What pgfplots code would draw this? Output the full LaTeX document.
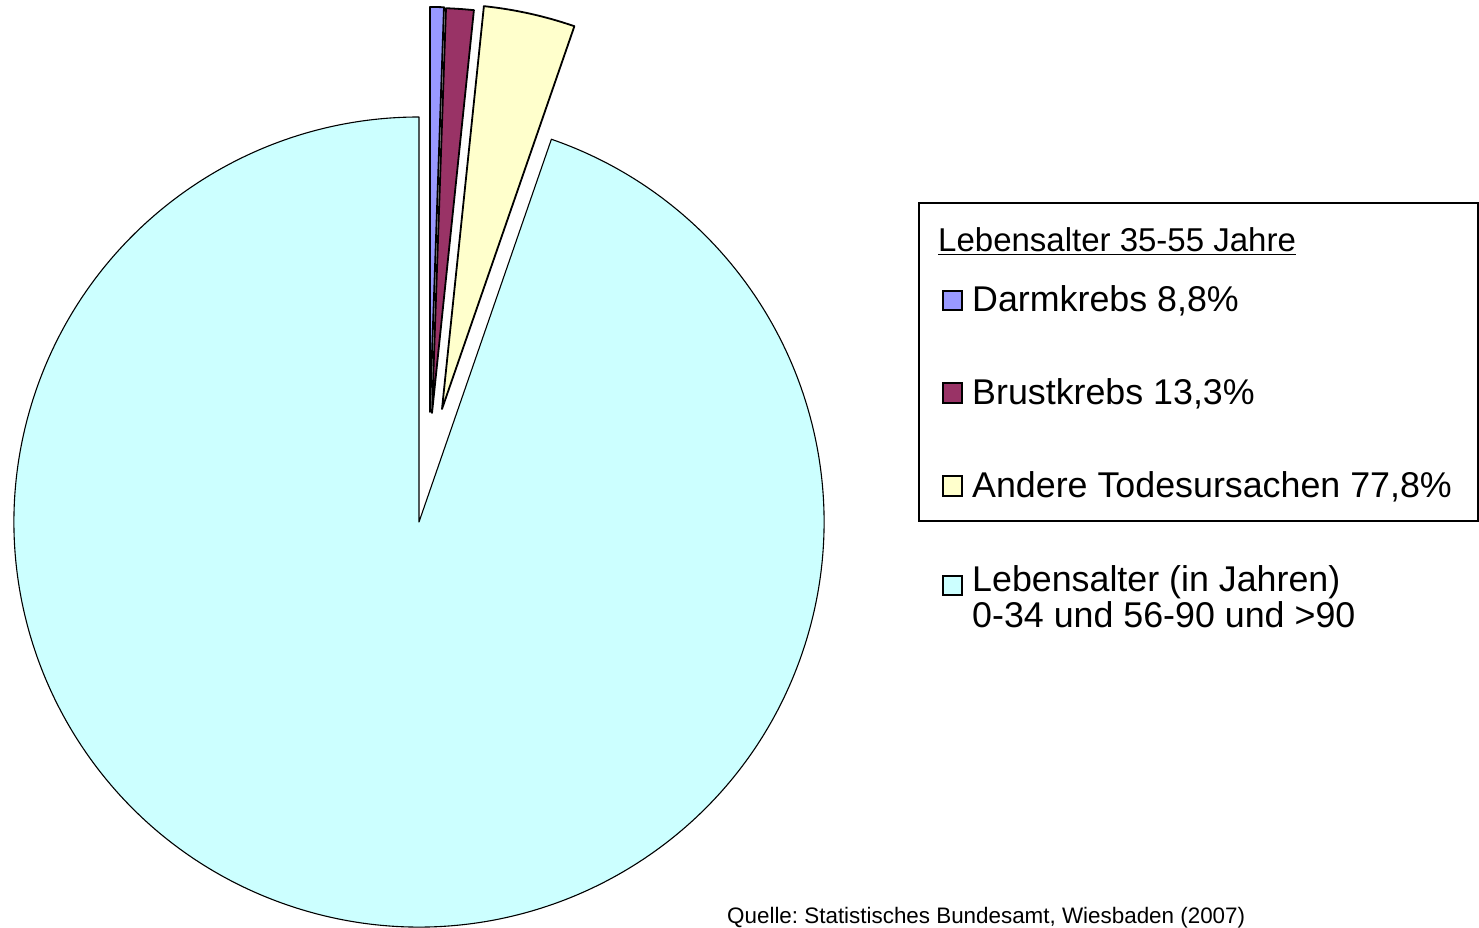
\documentclass[border=0pt]{standalone}
\usepackage{pgfplots}
\pgfplotsset{compat=1.18}
\usepackage{pgfplotstable}
\usepackage{fontspec}
\setmainfont{Liberation Sans}
\frenchspacing
\definecolor{darm}{RGB}{153,153,255}
\definecolor{brust}{RGB}{153,51,102}
\definecolor{andere}{RGB}{255,255,204}
\definecolor{rest}{RGB}{204,255,255}
\tikzset{
 pieedge/.style={draw=black,line width=1.8pt,line join=round},
 slice0/.style={pieedge,fill=darm},
 slice1/.style={pieedge,fill=brust},
 slice2/.style={pieedge,fill=andere},
 slice3/.style={pieedge,fill=rest,line width=1.1pt},
 legsq/.style={draw=black,line width=1.5pt},
 legtxt/.style={anchor=base west,inner sep=0pt,font=\fontsize{35.8}{42}\selectfont},
}
% value = share of the full circle (percent); dx, dy = explode offset (px)
\pgfplotstableread{
value dx dy
0.55 11 110
1.10 13 109
3.65 23 113
94.70 0 0
}\piedata

\begin{document}
\begin{tikzpicture}
\begin{axis}[x=1pt,y=1pt,xmin=0,xmax=1479,ymin=0,ymax=928,hide axis,clip=false]
\coordinate (bbl) at (axis cs:0,0);
\coordinate (btr) at (axis cs:1479,928);
\def\curang{90}
\pgfplotsforeachungrouped \i in {0,...,3}{%
 \pgfplotstablegetelem{\i}{value}\of\piedata \let\v\pgfplotsretval
 \pgfplotstablegetelem{\i}{dx}\of\piedata \let\dx\pgfplotsretval
 \pgfplotstablegetelem{\i}{dy}\of\piedata \let\dy\pgfplotsretval
 \pgfmathsetmacro\endang{\curang-3.6*\v}%
 \pgfmathsetmacro\cx{419+\dx}%
 \pgfmathsetmacro\cy{406+\dy}%
 \edef\temp{\noexpand\draw[slice\i] (axis cs:\cx,\cy) -- ++(\curang:405pt) arc[start angle=\curang, end angle=\endang, radius=405pt] -- cycle;}%
 \temp
 \let\curang\endang
}
% legend box
\draw[line width=1.5pt] (axis cs:919,725) rectangle (axis cs:1478,407);
\node[anchor=base west,inner sep=0pt,font=\fontsize{33}{38}\selectfont] at (axis cs:938,676) {\underline{Lebensalter 35-55 Jahre}};
\draw[legsq,fill=darm] (axis cs:943,637) rectangle (axis cs:962,618);
\node[legtxt] at (axis cs:972,616) {Darmkrebs 8,8\%};
\draw[legsq,fill=brust] (axis cs:943,545) rectangle (axis cs:962,525);
\node[legtxt] at (axis cs:972,523) {Brustkrebs 13,3\%};
\draw[legsq,fill=andere] (axis cs:943,452) rectangle (axis cs:962,432);
\node[legtxt] at (axis cs:972,430) {Andere Todesursachen 77,8\%};
\draw[legsq,fill=rest] (axis cs:943,352) rectangle (axis cs:962,333);
\node[legtxt] at (axis cs:972,336) {Lebensalter (in Jahren)};
\node[legtxt] at (axis cs:972,300) {0-34 und 56-90 und >90};
\node[anchor=base west,inner sep=0pt,font=\fontsize{22.4}{26}\selectfont] at (axis cs:727,5) {Quelle: Statistisches Bundesamt, Wiesbaden (2007)};
\end{axis}
\pgfresetboundingbox
\path[use as bounding box] (bbl) rectangle (btr);
\end{tikzpicture}
\end{document}
